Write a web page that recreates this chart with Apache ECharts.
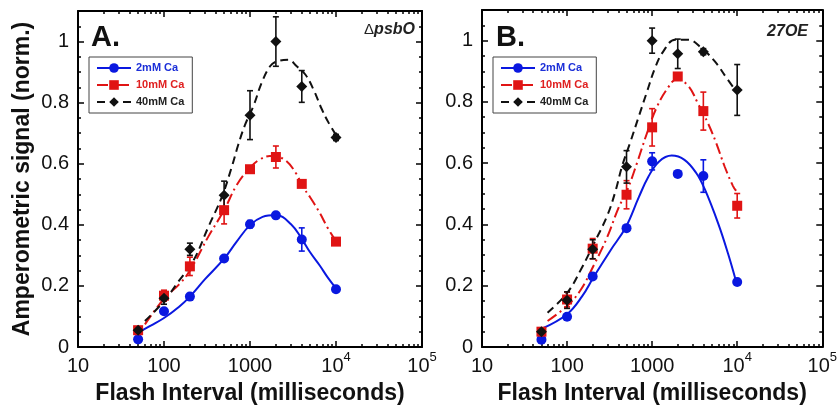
<!DOCTYPE html>
<html><head><meta charset="utf-8">
<script src="https://cdn.jsdelivr.net/npm/echarts@6/dist/echarts.min.js"></script>
<style>html,body{margin:0;padding:0;background:#fff}#c{width:840px;height:410px}</style>
</head><body><div id="c"></div>
<script>
// ---------- data ----------
const flashIntervals = [50, 100, 200, 500, 1000, 2000, 4000, 10000];
const seriesNames = ['2mM Ca', '10mM Ca', '40mM Ca'];

// Panel A (ΔpsbO) measured points and error bars
const a2mM = [0.025, 0.117, 0.165, 0.29, 0.402, 0.431, 0.352, 0.189];
const a2mMErr = [0, 0, 0, 0, 0.012, 0, 0.038, 0];
const a10mM = [0.055, 0.168, 0.264, 0.448, 0.582, 0.622, 0.534, 0.345];
const a10mMErr = [0, 0.018, 0.03, 0.045, 0, 0.036, 0, 0];
const a40mM = [0.055, 0.16, 0.32, 0.497, 0.759, 1.0, 0.853, 0.686];
const a40mMErr = [0, 0.02, 0.02, 0.046, 0.08, 0.081, 0.052, 0.01];

// Panel A fitted curves [interval, value]
const aFit2mM = [[50,0.047],[70,0.07],[100,0.095],[150,0.132],[200,0.165],[300,0.222],[500,0.289],[700,0.345],[1000,0.399],[1400,0.426],[2000,0.432],[3000,0.402],[4000,0.354],[5000,0.31],[6500,0.266],[8000,0.228],[10000,0.192]];
const aFit10mM = [[60,0.074],[100,0.158],[150,0.205],[200,0.25],[330,0.363],[500,0.448],[700,0.53],[1000,0.587],[1300,0.614],[1700,0.625],[2500,0.614],[3500,0.565],[4000,0.53],[5000,0.49],[6500,0.438],[8000,0.39],[10000,0.347]];
const aFit40mM = [[60,0.085],[100,0.15],[146,0.213],[220,0.283],[330,0.395],[470,0.491],[610,0.587],[730,0.662],[875,0.727],[1100,0.79],[1370,0.866],[1710,0.919],[2050,0.935],[2800,0.94],[3500,0.919],[4400,0.892],[5450,0.844],[6800,0.78],[8100,0.737],[10000,0.694]];

// Panel B (27OE) measured points and error bars
const b2mM = [0.024, 0.099, 0.23, 0.388, 0.606, 0.565, 0.558, 0.212];
const b2mMErr = [0, 0, 0, 0, 0.028, 0, 0.053, 0];
const b10mM = [0.05, 0.155, 0.321, 0.497, 0.717, 0.883, 0.77, 0.461];
const b10mMErr = [0, 0.024, 0.033, 0.046, 0.061, 0, 0.062, 0.04];
const b40mM = [0.05, 0.153, 0.319, 0.588, 1.0, 0.957, 0.964, 0.839];
const b40mMErr = [0, 0.027, 0.031, 0.053, 0.041, 0.048, 0.01, 0.083];

// Panel B fitted curves
const bFit2mM = [[50,0.059],[100,0.107],[150,0.165],[207,0.23],[325,0.316],[490,0.391],[700,0.49],[900,0.555],[1200,0.605],[1700,0.625],[2400,0.611],[3300,0.568],[4160,0.515],[6000,0.402],[7800,0.305],[9700,0.214]];
const bFit10mM = [[59,0.085],[100,0.134],[145,0.187],[207,0.268],[297,0.359],[405,0.456],[507,0.51],[663,0.6],[867,0.697],[1135,0.783],[1550,0.848],[1940,0.874],[2650,0.853],[3470,0.794],[4540,0.73],[5680,0.665],[7100,0.59],[8900,0.526],[9700,0.51]];
const bFit40mM = [[59,0.112],[100,0.176],[145,0.252],[207,0.338],[297,0.429],[372,0.51],[443,0.59],[556,0.67],[694,0.751],[867,0.832],[1086,0.912],[1360,0.966],[1860,1.003],[2650,1.003],[3800,0.976],[5430,0.933],[7420,0.88],[9290,0.842]];

// ticks
const xTickValues = [10, 100, 1000, 10000, 100000];
const xTickLabels = ['10', '100', '1000', '10^4', '10^5'];
const xMinorTicks = [20,30,40,50,60,70,80,90,200,300,400,500,600,700,800,900,2000,3000,4000,5000,6000,7000,8000,9000,20000,30000,40000,50000,60000,70000,80000,90000];
const yTickValues = [0, 0.2, 0.4, 0.6, 0.8, 1];
const yTickLabels = ['0', '0.2', '0.4', '0.6', '0.8', '1'];
const yMinorTicks = [0.05,0.1,0.15,0.25,0.3,0.35,0.45,0.5,0.55,0.65,0.7,0.75,0.85,0.9,0.95,1.05];

const panelLabels = ['A.', 'B.'];
const strainLabels = ['ΔpsbO', '27OE'];
const xTitle = 'Flash Interval (milliseconds)';
const yTitle = 'Amperometric signal (norm.)';

// ---------- styles ----------
const colors = ['#0a18e0', '#e01414', '#111111'];
const legendColors = ['#1c2fd8', '#e02020', '#222222'];
const symbols = ['circle', 'rect', 'diamond'];
const symbolSizes = [10, 10, 11];
const dashes = ['solid', [11, 4, 2, 4], [8, 5]];
const FONT = 'Liberation Sans, Arial, sans-serif';

const grids = [
  {left: 78, top: 11, width: 344, height: 342},
  {left: 482, top: 10, width: 343, height: 341.5}
];

function xLabelFmt(v) {
  const i = xTickValues.indexOf(v);
  const s = i >= 0 ? xTickLabels[i] : String(v);
  if (s.indexOf('^') >= 0) {
    const p = s.split('^');
    return '{b|' + p[0] + '}{s|' + p[1] + '}';
  }
  return '{b|' + s + '}';
}
function yLabelFmt(v) {
  let best = 0;
  for (let i = 0; i < yTickValues.length; i++) if (Math.abs(yTickValues[i] - v) < 1e-6) best = i;
  return yTickLabels[best];
}

const lineBlack = {color: '#000', width: 2};
const tickStyle = {color: '#000', width: 1.5};

function makeXAxes(gi) {
  const base = {type: 'log', logBase: 10, min: 10, max: 100000, gridIndex: gi,
    splitLine: {show: false}, minorTick: {show: false}, minorSplitLine: {show: false}};
  return [
    Object.assign({}, base, {position: 'bottom',
      axisLine: {show: true, onZero: false, lineStyle: lineBlack},
      axisTick: {show: true, inside: true, length: 6, customValues: xTickValues, lineStyle: tickStyle},
      axisLabel: {show: true, customValues: xTickValues, formatter: xLabelFmt, margin: 3, color: '#111',
        rich: {b: {fontSize: 20, fontFamily: FONT, color: '#111', padding: [6, 0, 0, 0], verticalAlign: 'bottom'},
               s: {fontSize: 13, fontFamily: FONT, color: '#111', padding: [0, 0, 12, 0], verticalAlign: 'bottom'}}},
      name: xTitle, nameLocation: 'middle', nameGap: 35,
      nameTextStyle: {fontSize: 23, fontWeight: 'bold', fontFamily: FONT, color: '#111'}}),
    Object.assign({}, base, {position: 'bottom',
      axisLine: {show: false, onZero: false},
      axisTick: {show: true, inside: true, length: 3, customValues: xMinorTicks, lineStyle: tickStyle},
      axisLabel: {show: false}}),
    Object.assign({}, base, {position: 'top',
      axisLine: {show: true, onZero: false, lineStyle: lineBlack},
      axisTick: {show: true, inside: true, length: 6, customValues: xTickValues, lineStyle: tickStyle},
      axisLabel: {show: false}}),
    Object.assign({}, base, {position: 'top',
      axisLine: {show: false, onZero: false},
      axisTick: {show: true, inside: true, length: 3, customValues: xMinorTicks, lineStyle: tickStyle},
      axisLabel: {show: false}})
  ];
}
function makeYAxes(gi) {
  const base = {type: 'value', min: 0, max: 1.1, gridIndex: gi,
    splitLine: {show: false}, minorTick: {show: false}, minorSplitLine: {show: false}};
  const main = Object.assign({}, base, {position: 'left',
      axisLine: {show: true, onZero: false, lineStyle: lineBlack},
      axisTick: {show: true, inside: true, length: 6, customValues: yTickValues, lineStyle: tickStyle},
      axisLabel: {show: true, customValues: yTickValues, formatter: yLabelFmt, margin: 9,
        fontSize: 20, fontFamily: FONT, color: '#111'}});
  if (gi === 0) {
    Object.assign(main, {name: yTitle, nameLocation: 'middle', nameGap: 44,
      nameTextStyle: {fontSize: 23, fontWeight: 'bold', fontFamily: FONT, color: '#111'}});
  }
  return [
    main,
    Object.assign({}, base, {position: 'left',
      axisLine: {show: false, onZero: false},
      axisTick: {show: true, inside: true, length: 3, customValues: yMinorTicks, lineStyle: tickStyle},
      axisLabel: {show: false}}),
    Object.assign({}, base, {position: 'right',
      axisLine: {show: true, onZero: false, lineStyle: lineBlack},
      axisTick: {show: true, inside: true, length: 6, customValues: yTickValues, lineStyle: tickStyle},
      axisLabel: {show: false}}),
    Object.assign({}, base, {position: 'right',
      axisLine: {show: false, onZero: false},
      axisTick: {show: true, inside: true, length: 3, customValues: yMinorTicks, lineStyle: tickStyle},
      axisLabel: {show: false}})
  ];
}

function errRender(color) {
  return function (params, api) {
    const x = api.value(0), y = api.value(1), e = api.value(2);
    if (!e) return null;
    const t = api.coord([x, y + e]);
    const b = api.coord([x, y - e]);
    const w = 3;
    const st = {stroke: color, lineWidth: 1.6};
    return {type: 'group', children: [
      {type: 'line', shape: {x1: t[0], y1: t[1], x2: b[0], y2: b[1]}, style: st},
      {type: 'line', shape: {x1: t[0] - w, y1: t[1], x2: t[0] + w, y2: t[1]}, style: st},
      {type: 'line', shape: {x1: b[0] - w, y1: b[1], x2: b[0] + w, y2: b[1]}, style: st}
    ]};
  };
}

const panels = [
  {pts: [a2mM, a10mM, a40mM], errs: [a2mMErr, a10mMErr, a40mMErr], fits: [aFit2mM, aFit10mM, aFit40mM]},
  {pts: [b2mM, b10mM, b40mM], errs: [b2mMErr, b10mMErr, b40mMErr], fits: [bFit2mM, bFit10mM, bFit40mM]}
];

const series = [];
panels.forEach((p, gi) => {
  const ax = gi * 4;
  for (let k = 0; k < 3; k++) {
    series.push({type: 'line', name: seriesNames[k], xAxisIndex: ax, yAxisIndex: ax,
      data: p.fits[k], smooth: 0.4, showSymbol: false, symbol: symbols[k], symbolSize: symbolSizes[k],
      lineStyle: {color: colors[k], width: 2, type: dashes[k]}, itemStyle: {color: colors[k]},
      silent: true, z: 2});
  }
  for (let k = 0; k < 3; k++) {
    series.push({type: 'custom', name: seriesNames[k] + ' err', xAxisIndex: ax, yAxisIndex: ax,
      data: flashIntervals.map((x, i) => [x, p.pts[k][i], p.errs[k][i]]),
      renderItem: errRender(colors[k]), silent: true, z: 3});
    series.push({type: 'scatter', name: seriesNames[k] + ' pts', xAxisIndex: ax, yAxisIndex: ax,
      data: flashIntervals.map((x, i) => [x, p.pts[k][i]]),
      symbol: symbols[k], symbolSize: symbolSizes[k], itemStyle: {color: colors[k], opacity: 1},
      silent: true, z: 4});
  }
});

function legendFor(left, top) {
  return {left: left, top: top, orient: 'vertical', itemWidth: 34, itemHeight: 12, itemGap: 5,
    padding: [5, 8, 5, 7], borderColor: '#444', borderWidth: 1, backgroundColor: '#fff',
    selectedMode: false,
    textStyle: {fontSize: 11, fontWeight: 'bold', fontFamily: FONT, lineHeight: 12},
    data: seriesNames.map((n, k) => ({name: n, textStyle: {color: legendColors[k]}}))};
}

const option = {
  animation: false,
  backgroundColor: '#fff',
  grid: grids,
  xAxis: makeXAxes(0).concat(makeXAxes(1)),
  yAxis: makeYAxes(0).concat(makeYAxes(1)),
  legend: [legendFor(89, 57), legendFor(493, 57)],
  series: series,
  graphic: [
    {type: 'text', left: 91, top: 23, style: {text: panelLabels[0], font: 'bold 29px ' + FONT, fill: '#111'}},
    {type: 'text', left: 496, top: 23, style: {text: panelLabels[1], font: 'bold 29px ' + FONT, fill: '#111'}},
    {type: 'text', right: 840 - 415, top: 22, style: {text: '{d|' + strainLabels[0].charAt(0) + '}{i|' + strainLabels[0].slice(1) + '}',
      rich: {d: {fontSize: 15, fontFamily: FONT, fill: '#222'}, i: {fontSize: 16, fontStyle: 'italic', fontWeight: 'bold', fontFamily: FONT, fill: '#222'}}}},
    {type: 'text', right: 840 - 808, top: 24, style: {text: strainLabels[1], font: 'italic bold 16px ' + FONT, fill: '#222'}}
  ]
};

const chart = echarts.init(document.getElementById('c'), null, {renderer: 'canvas'});
chart.setOption(option);
</script>
</body></html>
